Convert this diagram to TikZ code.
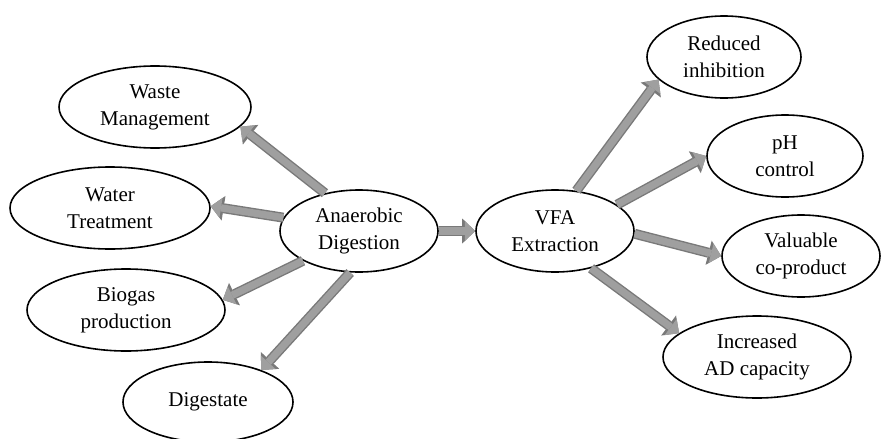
\documentclass[tikz,border=0pt]{standalone}
\usepackage{fontspec}
\setmainfont{Liberation Serif}
\usetikzlibrary{shapes.geometric,arrows.meta}

\begin{document}
\begin{tikzpicture}[x=0.5pt,y=-0.5pt,
  bubble/.style={ellipse,draw,line width=0.8pt,fill=white,inner sep=0pt,
    align=center,font=\fontsize{10.5}{13.5}\selectfont,
    minimum width=#1,minimum height=41pt},
  bubble/.default=79pt,
  link/.style={draw=gray!75,line width=3.6pt,
    -{Triangle[length=5.2pt,width=10pt,line width=0pt]},
    preaction={draw=gray!95!black,line width=5pt,
      -{Triangle[length=6.5pt,width=12.5pt,line width=0pt]}}}]
\useasboundingbox (0,0) rectangle (890,439);
% Centre of the chart
\node[bubble] (ad) at (359,231) {Anaerobic\\Digestion};
\node[bubble] (vfa) at (555,231) {VFA\\Extraction};
% Outcomes of digestion on the left
\node[bubble=96pt] (waste) at (155,107) {Waste\\Management};
\node[bubble=100pt] (water) at (110,208) {Water\\Treatment};
\node[bubble=99pt] (biogas) at (126,310) {Biogas\\production};
\node[bubble=85pt,minimum height=40pt] (dig) at (208,402) {Digestate};
% Benefits of extraction on the right
\node[bubble=77pt] (inhib) at (724,57) {Reduced\\inhibition};
\node[bubble=78pt] (ph) at (785,156) {pH\\control};
\node[bubble=79pt] (coprod) at (801,256) {Valuable\\co-product};
\node[bubble=94pt] (capac) at (757,357) {Increased\\AD capacity};
% Arrows
\draw[link] (ad.132) -- (waste.-13);
\draw[link] (ad.170) -- (water.1);
\draw[link] (ad.-152) -- (biogas.6);
\draw[link] (ad.-102) -- (dig.31);
\draw[link] (ad.east) -- (vfa.west);
\draw[link] (vfa.62) -- (inhib.-161);
\draw[link] (vfa.23) -- (ph.180);
\draw[link] (vfa.-2) -- (coprod.180);
\draw[link] (vfa.-46) -- (capac.163);
\end{tikzpicture}
\end{document}
